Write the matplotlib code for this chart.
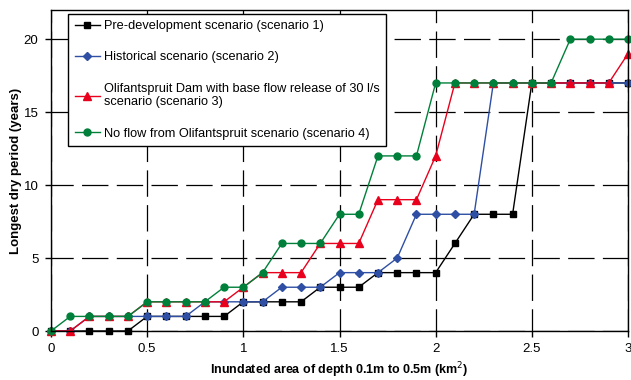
import matplotlib
matplotlib.use("Agg")
import matplotlib.pyplot as plt

plt.rcParams['font.family'] = ['Liberation Sans', 'DejaVu Sans']
plt.rcParams['lines.scale_dashes'] = False

x_vals = [round(i * 0.1, 1) for i in range(31)]
scenario1 = [0, 0, 0, 0, 0, 1, 1, 1, 1, 1, 2, 2, 2, 2, 3, 3, 3, 4, 4, 4, 4, 6, 8, 8, 8, 17, 17, 17, 17, 17, 17]
scenario2 = [0, 0, 1, 1, 1, 1, 1, 1, 2, 2, 2, 2, 3, 3, 3, 4, 4, 4, 5, 8, 8, 8, 8, 17, 17, 17, 17, 17, 17, 17, 17]
scenario3 = [0, 0, 1, 1, 1, 2, 2, 2, 2, 2, 3, 4, 4, 4, 6, 6, 6, 9, 9, 9, 12, 17, 17, 17, 17, 17, 17, 17, 17, 17, 19]
scenario4 = [0, 1, 1, 1, 1, 2, 2, 2, 2, 3, 3, 4, 6, 6, 6, 8, 8, 12, 12, 12, 17, 17, 17, 17, 17, 17, 17, 20, 20, 20, 20]

labels = [
    "Pre-development scenario (scenario 1)",
    "Historical scenario (scenario 2)",
    "Olifantspruit Dam with base flow release of 30 l/s\nscenario (scenario 3)",
    "No flow from Olifantspruit scenario (scenario 4)",
]
colors = ["#000000", "#2E4FA3", "#E8001C", "#00803A"]
markers = ["s", "D", "^", "o"]
msizes = [5, 4, 5.5, 5]

fig = plt.figure(figsize=(6.31, 3.80), dpi=100)
ax = fig.add_axes([51 / 631, 49 / 380, 577 / 631, 321 / 380])

for ys, lab, c, m, ms in zip([scenario1, scenario2, scenario3, scenario4], labels, colors, markers, msizes):
    ax.plot(x_vals, ys, color=c, marker=m, markersize=ms, linewidth=1.0, label=lab, clip_on=False)

ax.set_xlim(0, 3)
ax.set_ylim(0, 22)
ax.set_xticks([0, 0.5, 1, 1.5, 2, 2.5, 3])
ax.set_xticklabels(["0", "0.5", "1", "1.5", "2", "2.5", "3"])
ax.set_yticks([0, 5, 10, 15, 20])
ax.grid(True, color="black", linestyle=(3, (19, 6)), linewidth=0.9)
ax.set_axisbelow(True)
for s in ax.spines.values():
    s.set_color("black")
    s.set_linewidth(1.0)
ax.tick_params(axis="both", direction="out", length=4, width=1, labelsize=9.5, colors="black", pad=5)

ax.set_xlabel("Inundated area of depth 0.1m to 0.5m (km$^2$)", fontsize=9, fontweight="bold")
ax.set_ylabel("Longest dry period (years)", fontsize=9.5, fontweight="bold")
ax.xaxis.set_label_coords(0.5, -0.093)
ax.yaxis.set_label_coords(-0.05, 0.5)

leg = ax.legend(loc="upper left", bbox_to_anchor=(0.03, 0.988), fontsize=9.2, frameon=True,
                fancybox=False, edgecolor="black", framealpha=1.0, handlelength=2.0,
                handletextpad=0.3, labelspacing=1.5, borderpad=0.5, borderaxespad=0)
leg.get_frame().set_linewidth(1.0)

fig.savefig("out.png", dpi=100)
